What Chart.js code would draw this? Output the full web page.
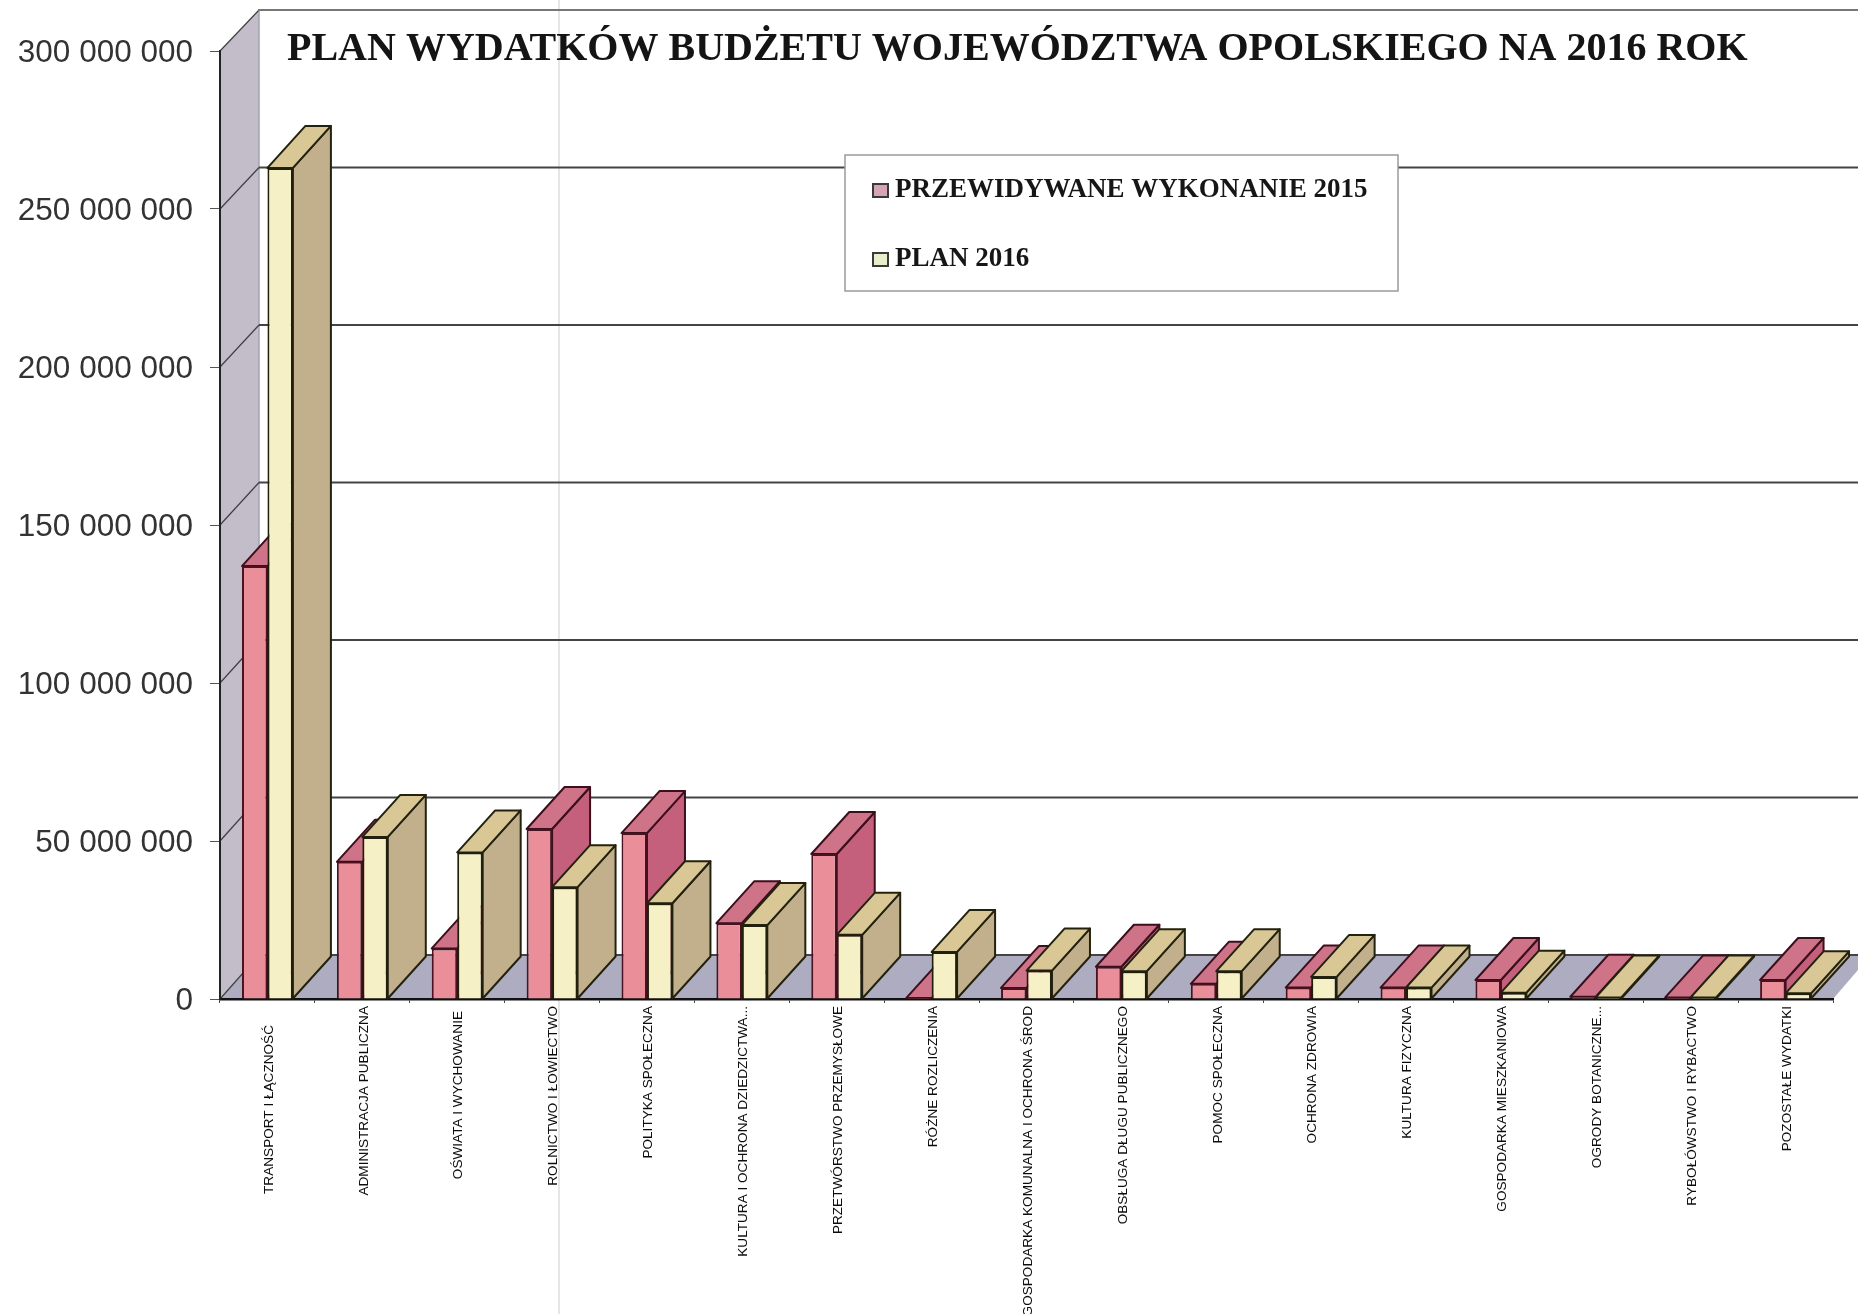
<!DOCTYPE html>
<html lang="pl">
<head>
<meta charset="utf-8">
<title>Plan wydatków budżetu województwa opolskiego</title>
<script src="https://cdn.jsdelivr.net/npm/chart.js@4"></script>
<style>
html,body{margin:0;padding:0;background:#fff;overflow:hidden}
canvas{display:block;filter:blur(0.45px)}
</style>
</head>
<body>
<canvas id="c" width="1858" height="1314"></canvas>
<script>
const chartTitle = 'PLAN WYDATKÓW BUDŻETU WOJEWÓDZTWA OPOLSKIEGO NA 2016 ROK';
const categories = ['TRANSPORT I ŁĄCZNOŚĆ','ADMINISTRACJA PUBLICZNA','OŚWIATA I WYCHOWANIE','ROLNICTWO I ŁOWIECTWO','POLITYKA SPOŁECZNA','KULTURA I OCHRONA DZIEDZICTWA...','PRZETWÓRSTWO PRZEMYSŁOWE','RÓŻNE ROZLICZENIA','GOSPODARKA KOMUNALNA I OCHRONA ŚROD','OBSŁUGA DŁUGU PUBLICZNEGO','POMOC SPOŁECZNA','OCHRONA ZDROWIA','KULTURA FIZYCZNA','GOSPODARKA MIESZKANIOWA','OGRODY BOTANICZNE...','RYBOŁÓWSTWO I RYBACTWO','POZOSTAŁE WYDATKI'];
const wykonanie2015 = [137000000,43400000,16000000,53800000,52500000,24000000,45900000,300000,3500000,10200000,4800000,3600000,3600000,6000000,700000,500000,6000000];
const plan2016 = [263000000,51300000,46400000,35400000,30300000,23400000,20300000,14900000,9000000,8800000,8800000,7000000,3600000,2000000,500000,500000,1800000];
const seriesNames = ['PRZEWIDYWANE WYKONANIE 2015','PLAN 2016'];

const DX = 38, DY = 42;
const faces = [
  {top:'#cf7389', side:'#c4607c', edge:'#3c0f1c'},
  {top:'#d9c795', side:'#c2b08c', edge:'#23220f'}
];
function poly(ctx, pts, fill, stroke, lw){
  ctx.beginPath();
  pts.forEach((p,i)=> i ? ctx.lineTo(p[0],p[1]) : ctx.moveTo(p[0],p[1]));
  ctx.closePath();
  ctx.fillStyle = fill; ctx.fill();
  if (stroke){ ctx.strokeStyle = stroke; ctx.lineWidth = lw; ctx.lineJoin='round'; ctx.stroke(); }
}
function swatch(fill){
  const s = document.createElement('canvas'); s.width = 17; s.height = 15;
  const g = s.getContext('2d');
  g.fillStyle = fill; g.fillRect(1,1,15,13);
  g.strokeStyle = '#3a3a3a'; g.lineWidth = 2; g.strokeRect(1,1,15,13);
  return s;
}
const scene = {
  id:'scene3d',
  afterLayout(chart){
    const t = chart.titleBlock;
    t.left = 287; t.right = 1780; t.top = 30;
    const l = chart.legend, pad = l.options.labels.padding;
    l.left = 879.5 - pad; l.top = 191 - 14 - pad; l.right = l.left + 560; l.bottom = l.top + 600;
    // two labels sit a little lower than the rest in the original
    const items = chart.scales.x.getLabelItems();
    if (items[0]) items[0].options.translation[1] += 19;
    if (items[2]) items[2].options.translation[1] += 5;
  },
  beforeDraw(chart){
    const ctx = chart.ctx, y = chart.scales.y, a = chart.chartArea;
    const W = chart.width;
    const back = v => y.getPixelForValue(v) - (41 + 3*(1 - v/y.max));
    const bx = a.left + 39;
    ctx.save();
    // scan fold
    ctx.strokeStyle = '#e6e6e6'; ctx.lineWidth = 2;
    ctx.beginPath(); ctx.moveTo(559,0); ctx.lineTo(559,chart.height); ctx.stroke();
    // walls and floor
    poly(ctx,[[a.left,a.top],[bx,back(y.max)],[bx,back(0)],[a.left,a.bottom]],'#c3bcc9');
    poly(ctx,[[a.left,a.bottom],[a.right,a.bottom],[a.right+DX,back(0)],[bx,back(0)]],'#aeacc1');
    ctx.strokeStyle = '#a3a3b3'; ctx.lineWidth = 1.5;
    ctx.beginPath(); ctx.moveTo(bx,back(y.max)); ctx.lineTo(bx,back(0)); ctx.stroke();
    // grid on the side wall and back wall
    y.ticks.forEach(t=>{
      const py = y.getPixelForValue(t.value), by = back(t.value);
      ctx.strokeStyle = '#3f3f3f'; ctx.lineWidth = 1.2;
      ctx.beginPath(); ctx.moveTo(a.left,py); ctx.lineTo(bx,by); ctx.stroke();
      ctx.strokeStyle = t.value === y.max ? '#777' : '#444'; ctx.lineWidth = 1.8;
      ctx.beginPath(); ctx.moveTo(t.value===y.max?bx-1:bx,by); ctx.lineTo(W,by); ctx.stroke();
    });
    // legend frame
    ctx.fillStyle = '#fff'; ctx.fillRect(845,155,553,136);
    ctx.strokeStyle = '#9a9a9a'; ctx.lineWidth = 1.5; ctx.strokeRect(845,155,553,136);
    ctx.restore();
  },
  beforeDatasetsDraw(chart){
    const ctx = chart.ctx;
    ctx.save();
    [0,1].forEach(i=>{
      const f = faces[i];
      chart.getDatasetMeta(i).data.forEach(b=>{
        const l = b.x - b.width/2, r = b.x + b.width/2, t = b.y, z = b.base;
        poly(ctx,[[r,t],[r+DX,t-DY],[r+DX,z-DY],[r,z]],f.side,f.edge,2);
        poly(ctx,[[l,t],[r,t],[r+DX,t-DY],[l+DX,t-DY]],f.top,f.edge,2);
      });
    });
    ctx.restore();
  }
};
new Chart(document.getElementById('c'),{
  type:'bar',
  data:{
    labels:categories,
    datasets:[
      {label:seriesNames[0],data:wykonanie2015,backgroundColor:'#ea8f99',borderColor:'#4a1220',borderWidth:2,swatchFill:'#d6a4b6'},
      {label:seriesNames[1],data:plan2016,backgroundColor:'#f5f0c6',borderColor:'#1f1f0c',borderWidth:2,swatchFill:'#e9edc9'}
    ]
  },
  options:{
    responsive:false,
    animation:false,
    layout:{padding:{top:11,right:25,left:0,bottom:0}},
    scales:{
      x:{
        offset:true,
        grid:{drawOnChartArea:false,offset:true,tickLength:4,tickColor:'#444'},
        border:{display:true,color:'#111',width:2.5},
        ticks:{autoSkip:false,minRotation:90,maxRotation:90,padding:3,labelOffset:1.5,color:'#0c0c0c',font:{family:'"Liberation Sans"',size:13.6,weight:'normal'}},
        afterFit(s){ s.height = 315; }
      },
      y:{
        min:0,max:300000000,
        grid:{drawOnChartArea:false,tickLength:10,tickColor:'#555'},
        border:{display:true,color:'#222',width:2},
        ticks:{stepSize:50000000,padding:17,labelOffset:2,color:'#333',font:{family:'"Liberation Sans"',size:31.5},
          callback:v=>String(v).replace(/\B(?=(\d{3})+$)/g,' ')},
        afterFit(s){ s.width = 220; }
      }
    },
    datasets:{bar:{categoryPercentage:51/95,barPercentage:1}},
    plugins:{
      title:{display:true,text:chartTitle,align:'start',color:'#141414',padding:0,
        font:{family:'"Liberation Serif"',size:40,weight:'bold',lineHeight:1}},
      legend:{display:true,position:'chartArea',align:'start',
        labels:{usePointStyle:true,pointStyleWidth:2,boxHeight:15,padding:42,color:'#161616',
          font:{family:'"Liberation Serif"',size:27,weight:'bold'},
          generateLabels(chart){
            return chart.data.datasets.map((d,i)=>({text:d.label,datasetIndex:i,pointStyle:swatch(d.swatchFill),fontColor:'#161616',lineWidth:0,hidden:false}));
          }}
      },
      tooltip:{enabled:false}
    }
  },
  plugins:[scene]
});
</script>
</body>
</html>
